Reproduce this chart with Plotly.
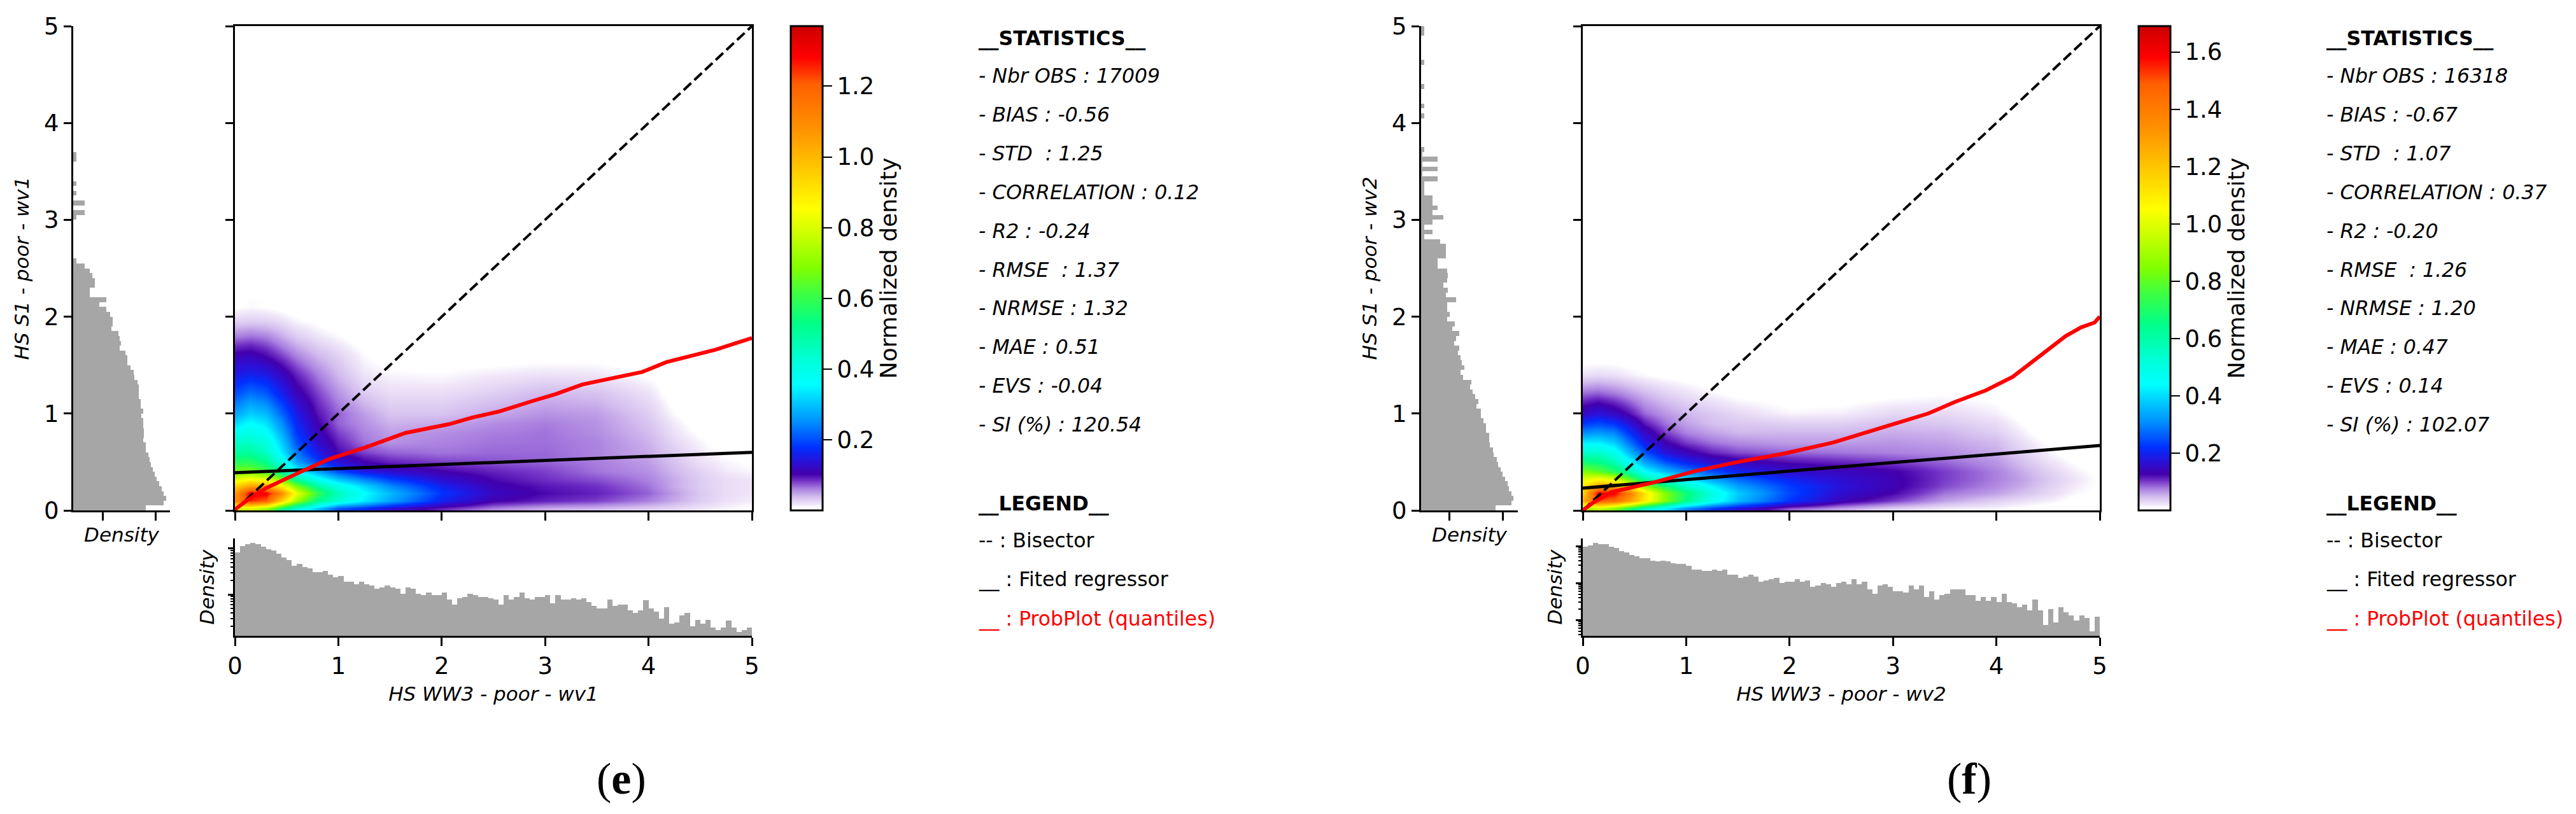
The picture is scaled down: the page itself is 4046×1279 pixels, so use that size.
import plotly.graph_objects as go

W, H = 4046, 1279
FONT = "DejaVu Sans"

# ---------------- grid of the density field (HS WW3 / HS S1)
grid_x = [0, .15, .3, .45, .6, .8, 1, 1.25, 1.5, 2, 2.5, 3, 3.5, 4, 4.25, 4.5, 4.75, 5]
grid_y = [.02, .1, .18, .25, .32, .4, .5, .6, .7, .8, .9, 1.0, 1.2, 1.4, 1.6, 1.8, 1.95, 2.1]

density_e = [
    [.75, .80, .72, .55, .42, .30, .20, .17, .13, .09, .06, .045, .04, .03, .025, .018, .012, .008],
    [1.1, 1.25, 1.2, .95, .72, .52, .42, .34, .27, .16, .105, .09, .08, .06, .045, .03, .02, .014],
    [1.05, 1.3, 1.3, 1.1, .82, .6, .46, .36, .29, .18, .12, .10, .09, .07, .05, .032, .022, .018],
    [.95, 1.05, 1.05, .88, .68, .5, .4, .32, .25, .16, .11, .095, .085, .065, .045, .03, .022, .018],
    [.8, .85, .82, .68, .5, .38, .3, .24, .19, .13, .10, .085, .075, .06, .045, .03, .022, .018],
    [.68, .68, .62, .5, .36, .27, .2, .15, .13, .105, .09, .08, .065, .055, .04, .028, .016, .012],
    [.58, .58, .52, .4, .27, .19, .14, .105, .09, .08, .075, .07, .062, .05, .035, .02, .012, .006],
    [.5, .5, .45, .34, .23, .15, .1, .08, .07, .065, .068, .068, .06, .045, .03, .016, .006, 0],
    [.44, .45, .41, .31, .2, .13, .09, .065, .055, .06, .065, .066, .06, .042, .025, .012, 0, 0],
    [.38, .4, .37, .28, .18, .115, .08, .06, .05, .056, .062, .065, .056, .038, .02, .006, 0, 0],
    [.32, .36, .33, .25, .165, .105, .07, .055, .042, .046, .056, .062, .054, .034, .016, 0, 0, 0],
    [.27, .31, .29, .22, .15, .095, .07, .05, .035, .035, .046, .054, .05, .03, .01, 0, 0, 0],
    [.2, .23, .21, .16, .115, .08, .055, .032, .022, .022, .03, .04, .036, .02, 0, 0, 0, 0],
    [.15, .16, .15, .12, .09, .062, .04, .018, .012, .01, .016, .02, .018, .007, 0, 0, 0, 0],
    [.11, .115, .10, .08, .06, .04, .028, .01, 0, 0, 0, .003, .003, 0, 0, 0, 0, 0],
    [.06, .065, .06, .045, .03, .018, .01, 0, 0, 0, 0, 0, 0, 0, 0, 0, 0, 0],
    [.028, .03, .028, .022, .012, .006, 0, 0, 0, 0, 0, 0, 0, 0, 0, 0, 0, 0],
    [.006, .01, .008, .004, 0, 0, 0, 0, 0, 0, 0, 0, 0, 0, 0, 0, 0, 0],
]
density_f = [
    [.85, .95, .85, .7, .55, .42, .3, .22, .17, .09, .06, .035, .02, .014, .008, 0, 0, 0],
    [1.25, 1.5, 1.45, 1.3, 1.1, .85, .65, .48, .36, .22, .14, .1, .06, .035, .025, .018, .006, 0],
    [1.15, 1.6, 1.6, 1.4, 1.12, .85, .68, .5, .38, .24, .16, .125, .08, .06, .045, .03, .014, .006],
    [1.1, 1.3, 1.3, 1.1, .88, .68, .55, .43, .33, .23, .17, .135, .095, .07, .055, .035, .02, .008],
    [1.0, 1.05, 1.0, .8, .62, .5, .42, .33, .27, .2, .16, .135, .10, .075, .06, .04, .024, .008],
    [.85, .8, .72, .6, .45, .36, .3, .25, .2, .16, .145, .13, .10, .075, .055, .035, .018, .006],
    [.68, .66, .58, .45, .33, .25, .2, .16, .14, .12, .11, .10, .085, .065, .045, .025, .01, 0],
    [.54, .54, .48, .36, .25, .17, .14, .11, .095, .085, .08, .075, .07, .055, .035, .016, 0, 0],
    [.42, .42, .38, .28, .19, .13, .1, .08, .07, .062, .062, .065, .06, .048, .026, .008, 0, 0],
    [.31, .32, .3, .22, .15, .1, .075, .06, .05, .05, .05, .055, .052, .036, .018, 0, 0, 0],
    [.22, .24, .22, .17, .115, .08, .06, .045, .04, .035, .035, .045, .04, .028, .01, 0, 0, 0],
    [.15, .17, .15, .12, .085, .065, .05, .04, .03, .015, .018, .03, .03, .018, .003, 0, 0, 0],
    [.085, .09, .08, .065, .05, .035, .025, .015, .006, 0, 0, .006, .01, .004, 0, 0, 0, 0],
    [.024, .028, .025, .018, .012, .006, .003, 0, 0, 0, 0, 0, 0, 0, 0, 0, 0, 0],
    [0] * 18,
    [0] * 18,
    [0] * 18,
    [0] * 18,
]

# ---------------- quantile curves and regressors
prob_x_e = [0, .1, .3, .45, .62, .91, 1.26, 1.65, 2.07, 2.3, 2.55, 2.88, 3.1, 3.36, 3.65, 3.94, 4.17, 4.4, 4.65, 5]
prob_y_e = [.01, .09, .23, .31, .39, .53, .65, .80, .89, .96, 1.02, 1.13, 1.2, 1.30, 1.37, 1.43, 1.53, 1.59, 1.66, 1.78]
prob_x_f = [0, .1, .28, .69, 1.1, 1.5, 1.96, 2.42, 3, 3.34, 3.6, 3.9, 4.16, 4.41, 4.67, 4.82, 4.95, 5]
prob_y_f = [0, .08, .19, .29, .41, .5, .59, .70, .89, 1.0, 1.12, 1.24, 1.38, 1.59, 1.80, 1.89, 1.94, 2.0]
reg_x = [0, 5]
reg_y_e = [.39, .60]
reg_y_f = [.23, .67]
bisector = [0, 5]

# ---------------- histograms: log10(density) per 0.05 bin, None = empty bin
bin_centers = [0.025 + 0.05 * i for i in range(100)]
log_hist_x_e = [
    -.08, .06, .10, .12, .10, .04, -.02, -.04, -.11, -.19, -.25, -.37, -.34, -.40, -.43, -.51, -.51, -.49, -.57, -.63,
    -.60, -.72, -.72, -.78, -.72, -.78, -.81, -.87, -.84, -.81, -.84, -.87, -.99, -.84, -.87, -.99, -1.02, -.96, -1.02, -1.02,
    -.96, -1.11, -1.22, -1.08, -1.05, -.99, -1.02, -1.05, -1.05, -1.08, -1.11, -1.22, -1.02, -1.11, -1.05, -.96, -1.08, -1.11, -1.05, -1.05,
    -1.02, -1.19, -1.02, -1.11, -1.11, -1.08, -1.11, -1.08, -1.17, -1.25, -1.31, -1.31, -1.11, -1.25, -1.22, -1.22, -1.34, -1.40, -1.34, -1.13,
    -1.31, -1.37, -1.52, -1.28, -1.63, -1.61, -1.46, -1.40, -1.69, -1.55, -1.63, -1.55, -1.72, -1.78, -1.72, -1.57, -1.72, -1.81, -1.78, -1.72,
]
log_hist_x_f = [
    -.02, .01, .09, .05, .05, -.02, -.06, -.13, -.17, -.24, -.28, -.32, -.32, -.39, -.42, -.39, -.42, -.46, -.49, -.49,
    -.53, -.64, -.64, -.67, -.67, -.64, -.67, -.64, -.78, -.78, -.86, -.82, -.78, -.82, -.97, -.93, -.90, -.86, -1.0, -.97,
    -.97, -.90, -.97, -.93, -1.11, -1.07, -1.0, -1.04, -1.11, -1.0, -.97, -1.04, -.90, -1.04, -.97, -1.18, -1.29, -1.07, -1.04, -1.11,
    -1.22, -1.22, -1.26, -1.07, -1.18, -1.07, -1.37, -1.22, -1.44, -1.33, -1.29, -1.18, -1.18, -1.18, -1.33, -1.33, -1.48, -1.37, -1.48, -1.37,
    -1.52, -1.29, -1.52, -1.55, -1.66, -1.59, -1.74, -1.44, -1.74, -2.14, -1.70, -2.06, -1.66, -1.80, -1.88, -2.02, -1.88, -1.95, -2.31, -1.91,
]
N = None
log_hist_y_e = [
    -.19, .14, .19, .14, .11, .06, .01, -.02, -.06, -.09, -.12, -.14, -.19, -.19, -.24, -.22, -.22, -.24, -.24, -.27,
    -.24, -.29, -.29, -.32, -.32, -.32, -.35, -.40, -.42, -.47, -.53, -.53, -.57, -.68, -.65, -.68, -.70, -.83, -.81, -.81,
    -.86, -.93, -1.06, -.93, -1.24, -1.24, -1.14, -1.14, -1.19, -1.24, -1.34, -1.49, N, N, N, N, N, N, N, N,
    -1.49, -1.34, N, -1.34, N, -1.49, N, -1.49, N, N, N, N, -1.49, -1.49, N, N, N, N, N, N,
    N, N, N, N, N, N, N, N, N, N, N, N, N, N, N, N, N, N, N, N,
]
log_hist_y_f = [
    -.14, .16, .19, .16, .11, .09, .04, -.01, -.04, -.09, -.11, -.17, -.19, -.24, -.26, -.26, -.31, -.31, -.36, -.41,
    -.41, -.49, -.46, -.52, -.56, -.61, -.59, -.74, -.79, -.72, -.76, -.79, -.84, -.81, -.91, -.87, -.81, -.94, -.89, -1.04,
    -.99, -1.04, -1.04, -.87, -1.06, -1.02, -1.11, -1.04, -1.02, -1.04, -1.21, -1.21, -1.06, -1.06, -1.06, -1.17, -1.46, -1.31, -1.46, -1.31,
    -1.11, -1.31, -1.21, -1.31, -1.31, -1.46, -1.46, -1.46, -1.21, -1.50, -1.21, -1.50, -1.21, -1.50, -1.46, N, N, N, N, N,
    N, -1.46, N, -1.46, N, N, N, -1.46, N, N, N, N, -1.46, N, N, N, N, N, -1.46, -1.46,
]

# ---------------- text
stats_e = ["- Nbr OBS : 17009", "- BIAS : -0.56", "- STD  : 1.25", "- CORRELATION : 0.12", "- R2 : -0.24",
           "- RMSE  : 1.37", "- NRMSE : 1.32", "- MAE : 0.51", "- EVS : -0.04", "- SI (%) : 120.54"]
stats_f = ["- Nbr OBS : 16318", "- BIAS : -0.67", "- STD  : 1.07", "- CORRELATION : 0.37", "- R2 : -0.20",
           "- RMSE  : 1.26", "- NRMSE : 1.20", "- MAE : 0.47", "- EVS : 0.14", "- SI (%) : 102.07"]

colorscale = [
    [0, "#ffffff"], [.006, "#ffffff"], [.012, "#f0e8f9"], [.028, "#d3bcee"], [.045, "#a97fdf"], [.062, "#6f2ec4"],
    [.075, "#4400ac"], [.10, "#2a10d8"], [.13, "#0030ff"], [.183, "#0090ff"], [.26, "#00ffff"], [.31, "#00ffd8"],
    [.385, "#00ff88"], [.45, "#40ff40"], [.5, "#80ff00"], [.57, "#ccff00"], [.622, "#ffff00"], [.79, "#ff9000"],
    [.88, "#ff6000"], [.935, "#ff0000"], [1, "#cc0000"],
]

GREY = "#a6a6a6"
fig = go.Figure()
layout = {}
annots = []


def px(v):
    return v / W


def py(v):
    return 1 - v / H


def panel(idx, dx, z, zmax, cb_ticks, cb_x, px_, py_, reg_y, hist_x, hist_y, xlab, ylab, stats, letter,
          hx_range, hy_range, hy_major, hy_minor):
    n = idx * 3
    xm, ym = f"x{n+1}", f"y{n+1}"
    xl, yl = f"x{n+2}", f"y{n+2}"
    xb, yb = f"x{n+3}", f"y{n+3}"
    common = dict(showgrid=False, zeroline=False, color="black", tickcolor="black", linecolor="black",
                  tickfont=dict(family=FONT, size=37, color="black"))
    ax = lambda s: ("xaxis" if s[0] == "x" else "yaxis") + s[1:]

    fig.add_trace(go.Heatmap(x=grid_x, y=grid_y, z=z, zmin=0, zmax=zmax, zsmooth="best", colorscale=colorscale,
                             xaxis=xm, yaxis=ym, hoverinfo="skip",
                             colorbar=dict(x=px(cb_x), xanchor="left", xpad=0, y=py(41), yanchor="top", ypad=0,
                                           lenmode="pixels", len=761, thickness=50, outlinewidth=3, outlinecolor="black",
                                           tickvals=cb_ticks, ticktext=[f"{t:.1f}" for t in cb_ticks],
                                           ticks="outside", ticklen=14, tickwidth=2, tickcolor="black",
                                           tickfont=dict(family=FONT, size=37, color="black"),
                                           title=dict(text="Normalized density", side="right",
                                                      font=dict(family=FONT, size=36, color="black")))))
    fig.add_trace(go.Scatter(x=bisector, y=bisector, mode="lines", line=dict(color="black", width=4, dash="16px,7px"),
                             xaxis=xm, yaxis=ym, showlegend=False, hoverinfo="skip"))
    fig.add_trace(go.Scatter(x=reg_x, y=reg_y, mode="lines", line=dict(color="black", width=5),
                             xaxis=xm, yaxis=ym, showlegend=False, hoverinfo="skip"))
    fig.add_trace(go.Scatter(x=px_, y=py_, mode="lines", line=dict(color="#ff0000", width=6),
                             xaxis=xm, yaxis=ym, showlegend=False, hoverinfo="skip"))
    # left histogram
    fig.add_trace(go.Bar(y=bin_centers, x=[None if v is None else 10 ** v for v in hist_y], orientation="h",
                         width=0.05, marker=dict(color=GREY, line=dict(width=0)), xaxis=xl, yaxis=yl,
                         showlegend=False, hoverinfo="skip"))
    # bottom histogram
    fig.add_trace(go.Bar(x=bin_centers, y=[10 ** v for v in hist_x], width=0.05,
                         marker=dict(color=GREY, line=dict(width=0)), xaxis=xb, yaxis=yb,
                         showlegend=False, hoverinfo="skip"))

    layout[ax(xm)] = dict(domain=[px(369 + dx), px(1181 + dx)], range=[0, 5], anchor=ym, tickvals=[0, 1, 2, 3, 4, 5],
                          showticklabels=False, ticks="outside", ticklen=13, tickwidth=2.5, showline=True,
                          linewidth=3, mirror=True, **common)
    layout[ax(ym)] = dict(domain=[py(802), py(41)], range=[0, 5], anchor=xm, tickvals=[0, 1, 2, 3, 4, 5],
                          showticklabels=False, ticks="outside", ticklen=12, tickwidth=2.5, showline=True,
                          linewidth=3, mirror=True, **common)
    layout[ax(xl)] = dict(domain=[px(115 + dx), px(267 + dx)], type="log", range=hx_range, anchor=yl, tickvals=[.1, 1],
                          showticklabels=False, ticks="outside", ticklen=13, tickwidth=2.5, showline=True, linewidth=3,
                          title=dict(text="Density", standoff=13, font=dict(family=FONT, size=31, style="italic", color="black")),
                          **common)
    layout[ax(yl)] = dict(domain=[py(802), py(41)], range=[0, 5], anchor=xl, tickvals=[0, 1, 2, 3, 4, 5],
                          ticks="outside", ticklen=12, tickwidth=2.5, showline=True, linewidth=3,
                          title=dict(text=ylab, standoff=15, font=dict(family=FONT, size=31, style="italic", color="black")),
                          **common)
    layout[ax(xb)] = dict(domain=[px(369 + dx), px(1181 + dx)], range=[0, 5], anchor=yb, tickvals=[0, 1, 2, 3, 4, 5],
                          ticks="outside", ticklen=13, tickwidth=2.5, showline=True, linewidth=3,
                          title=dict(text=xlab, standoff=12, font=dict(family=FONT, size=31, style="italic", color="black")),
                          **common)
    layout[ax(yb)] = dict(domain=[py(999), py(846)], type="log", range=hy_range, anchor=xb, tickvals=hy_major,
                          showticklabels=False, ticks="outside", ticklen=8, tickwidth=2.5, showline=True, linewidth=3,
                          minor=dict(tickvals=hy_minor, ticks="outside", ticklen=4, tickwidth=2, tickcolor="black"),
                          title=dict(text="Density", standoff=13, font=dict(family=FONT, size=31, style="italic", color="black")),
                          **common)

    tx = 1535 + dx

    def text(s, y, color="black", bold=False, italic=False):
        t = f"<b>{s}</b>" if bold else s
        t = f"<i>{t}</i>" if italic else t
        annots.append(dict(text=t, x=px(tx), y=py(y), xref="paper", yref="paper", xanchor="left", yanchor="middle",
                           showarrow=False, align="left", font=dict(family=FONT, size=31.5, color=color)))

    text("__STATISTICS__", 60, bold=True)
    for i, s in enumerate(stats):
        text(s, 119 + 60.9 * i, italic=True)
    text("__LEGEND__", 791, bold=True)
    text("-- : Bisector", 849)
    text("__ : Fited regressor", 910)
    text("__ : ProbPlot (quantiles)", 972, color="#ff0000")
    annots.append(dict(text=f"(<b>{letter}</b>)", x=px(976 + dx), y=py(1223), xref="paper", yref="paper",
                       xanchor="center", yanchor="middle", showarrow=False,
                       font=dict(family="Liberation Serif", size=70, color="black")))


minor_e = [.02, .03, .04, .05, .06, .07, .08, .09, .2, .3, .4, .5, .6, .7, .8, .9]
minor_f = [.004, .005, .006, .007, .008, .009, .02, .03, .04, .05, .06, .07, .08, .09, .2, .3, .4, .5, .6, .7, .8, .9]

panel(0, 0, density_e, 1.37, [.2, .4, .6, .8, 1.0, 1.2], 1242, prob_x_e, prob_y_e, reg_y_e,
      log_hist_x_e, log_hist_y_e, "HS WW3 - poor - wv1", "HS S1 - poor - wv1", stats_e, "e",
      [-1.55, .265], [-1.9, .22], [.1, 1], minor_e)
panel(1, 2117, density_f, 1.69, [.2, .4, .6, .8, 1.0, 1.2, 1.4, 1.6], 3359, prob_x_f, prob_y_f, reg_y_f,
      log_hist_x_f, log_hist_y_f, "HS WW3 - poor - wv2", "HS S1 - poor - wv2", stats_f, "f",
      [-1.52, .276], [-2.43, .207], [.01, .1, 1], minor_f)

fig.update_layout(width=W, height=H, autosize=False, margin=dict(l=0, r=0, t=0, b=0, autoexpand=False),
                  paper_bgcolor="white", plot_bgcolor="white", showlegend=False, bargap=0, annotations=annots,
                  font=dict(family=FONT, color="black"), **layout)
fig.write_html("out.html", config={"displayModeBar": False},
               post_script="document.body.style.margin='0';document.body.style.overflow='hidden';")
